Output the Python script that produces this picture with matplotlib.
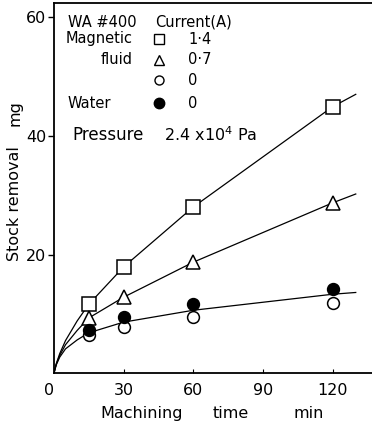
import numpy as np
import matplotlib
matplotlib.use("Agg")
import matplotlib.pyplot as plt

# measured stock removal (mg) against machining time (min)
t_pts = [15, 30, 60, 120]
mf_14 = [11.6, 17.9, 28.0, 44.9]     # magnetic fluid, 1.4 A
mf_07 = [9.3, 12.8, 18.7, 28.7]      # magnetic fluid, 0.7 A
mf_00 = [6.4, 7.8, 9.5, 11.8]        # magnetic fluid, 0 A
water = [7.3, 9.5, 11.6, 14.2]       # water, 0 A

# hand-drawn trend curves
t_curve = [0, 1, 2.5, 5, 10, 15, 30, 60, 120, 130]
curve_14 = [0, 1.6, 3.3, 5.5, 8.8, 11.6, 17.9, 28.0, 44.9, 47.0]
curve_07 = [0, 1.5, 3.0, 4.8, 7.2, 9.3, 12.8, 18.7, 28.7, 30.2]
curve_00 = [0, 1.4, 2.7, 4.1, 5.6, 6.8, 8.6, 10.6, 13.3, 13.6]

plt.rcParams['font.family'] = 'DejaVu Sans'

fig = plt.figure(figsize=(3.72, 4.25), dpi=100)
ax = fig.add_axes([0.145, 0.122, 0.855, 0.871])

lw = 0.9
for yc in (curve_14, curve_07, curve_00):
    ax.plot(t_curve, yc, color='black', lw=lw, zorder=2)

ax.plot(t_pts, mf_14, 's', ms=9.5, mfc='white', mec='black', mew=1.1, zorder=3)
ax.plot(t_pts, mf_07, '^', ms=9.5, mfc='white', mec='black', mew=1.1, zorder=3)
ax.plot(t_pts, mf_00, 'o', ms=8.5, mfc='white', mec='black', mew=1.1, zorder=3)
ax.plot(t_pts, water, 'o', ms=8.5, mfc='black', mec='black', mew=1.1, zorder=3)

ax.set_xlim(0, 137)
ax.set_ylim(0, 62.4)

# axes frame: left, bottom and top only
ax.spines['right'].set_visible(False)
for s in ('left', 'bottom', 'top'):
    ax.spines[s].set_linewidth(1.3)

fs = 10.5
ax.set_yticks([20, 40, 60])
ax.set_yticklabels(['20', '40', '60'], fontsize=fs + 1)
ax.tick_params(axis='y', direction='out', length=4.5, width=1, pad=1)
ax.set_xticks([0, 30, 60, 90, 120])
ax.set_xticklabels(['0', '30', '60', '90', '120'], fontsize=fs + 1)
ax.tick_params(axis='x', direction='in', length=3, width=0.8, pad=7)
ax.get_xticklabels()[0].set_horizontalalignment('right')

# axis titles
fig.text(0.04, 0.52, 'Stock removal', rotation=90, ha='center', va='center', fontsize=fs + 1)
fig.text(0.04, 0.735, 'mg', rotation=90, ha='center', va='center', fontsize=fs + 1)
fig.text(0.27, 0.028, 'Machining', ha='left', va='center', fontsize=fs + 1)
fig.text(0.572, 0.028, 'time', ha='left', va='center', fontsize=fs + 1)
fig.text(0.788, 0.028, 'min', ha='left', va='center', fontsize=fs + 1)

# legend block inside the axes
def px(x, y):
    return fig.transFigure.inverted().transform(
        fig.dpi_scale_trans.transform((x / 100, (425 - y) / 100)))

for txt, x, y, ha, size in [('WA #400', 68, 22, 'left', fs),
                            ('Current(A)', 155, 22, 'left', fs),
                            ('Magnetic', 133, 39, 'right', fs),
                            ('fluid', 133, 60, 'right', fs),
                            ('Water', 68, 103, 'left', fs),
                            ('1·4', 188, 39, 'left', fs),
                            ('0·7', 188, 60, 'left', fs),
                            ('0', 188, 80, 'left', fs),
                            ('0', 188, 103, 'left', fs),
                            ('Pressure', 72, 135, 'left', fs + 1.5),
                            ('2.4 x10$^{4}$ Pa', 164, 135, 'left', fs + 1)]:
    fx, fy = px(x, y)
    fig.text(fx, fy, txt, ha=ha, va='center', fontsize=size)

for mk, face, y, ms in [('s', 'white', 39, 6.5), ('^', 'white', 60, 6.5),
                        ('o', 'white', 80, 6.5), ('o', 'black', 103, 7.5)]:
    fx, fy = px(159, y)
    fig.lines.append(plt.Line2D([fx], [fy], marker=mk, ms=ms, mfc=face, mec='black',
                                mew=1.0, transform=fig.transFigure))

fig.savefig('out.png', dpi=100)
